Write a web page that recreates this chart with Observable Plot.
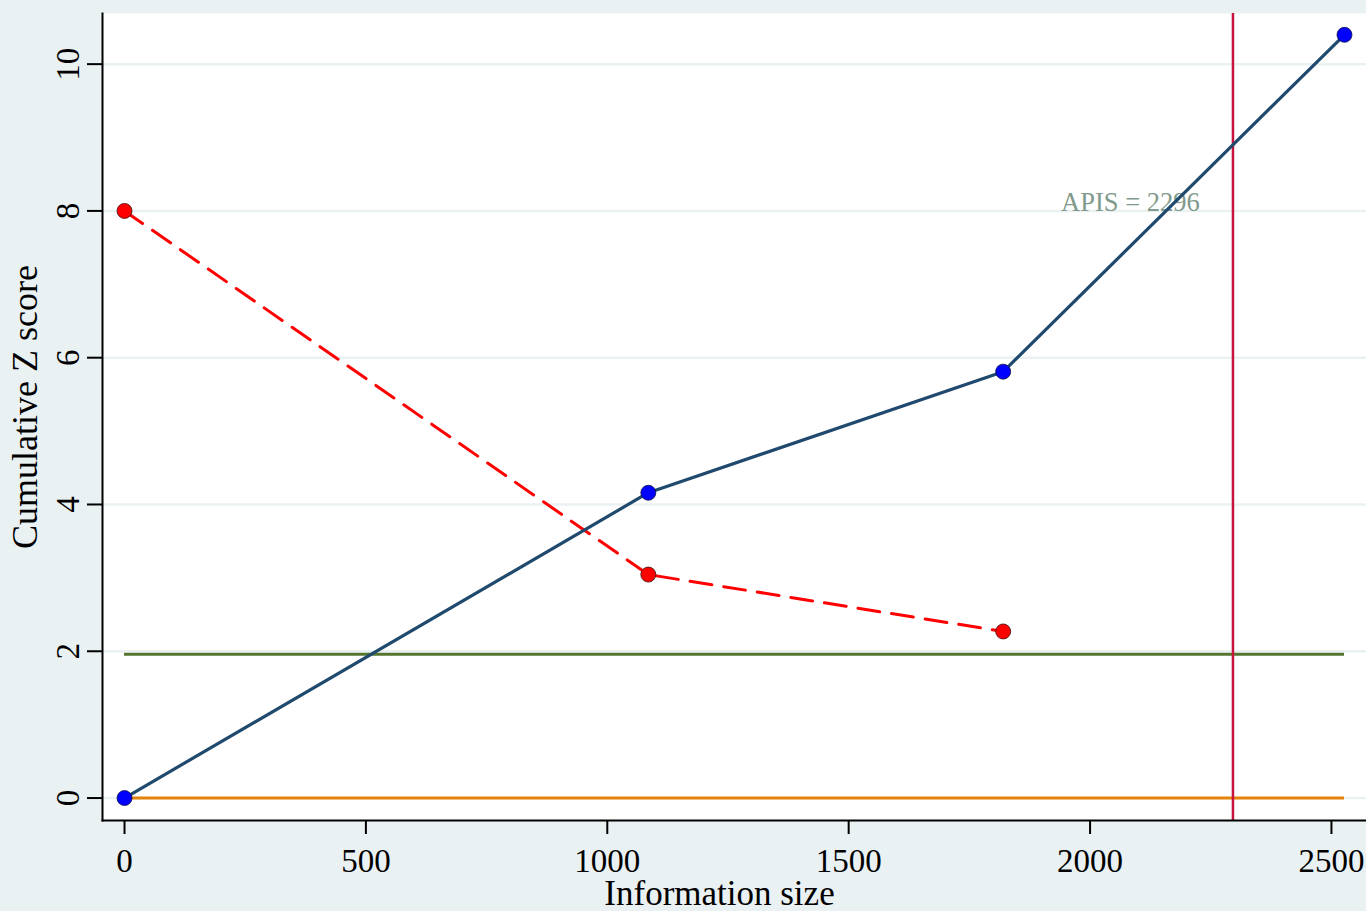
<!DOCTYPE html>
<html>
<head>
<meta charset="utf-8">
<script src="https://cdn.jsdelivr.net/npm/d3@7"></script>
<script src="https://cdn.jsdelivr.net/npm/@observablehq/plot@0.6"></script>
<style>
  html, body { margin: 0; padding: 0; background: #eaf1f3; }
  #chart svg { display: block; }
  #chart svg text { font-family: 'Liberation Serif', 'Times New Roman', serif; font-variant: normal; }
</style>
</head>
<body>
<div id="chart"></div>
<script>
// Cumulative information size and the cumulative Z curve
const infoSize = [0, 1085, 1820, 2527];
const cumulativeZ = [0, 4.16, 5.81, 10.40];

// Second series (dashed red), shown at the first three looks
const boundSize = [0, 1085, 1820];
const boundZ = [8.0, 3.045, 2.27];

// Reference lines
const zCritical = 1.96;
const zeroLine = 0;
const refEnd = 2527;
const apis = 2296;
const apisLabel = "APIS = 2296";

const xTicks = [0, 500, 1000, 1500, 2000, 2500];
const yTicks = [0, 2, 4, 6, 8, 10];
const xTitle = "Information size";
const yTitle = "Cumulative Z score";

const curve = infoSize.map((x, i) => ({x, z: cumulativeZ[i]}));
const bound = boundSize.map((x, i) => ({x, z: boundZ[i]}));

const chart = Plot.plot({
  width: 1366,
  height: 911,
  marginLeft: 102,
  marginRight: 0,
  marginTop: 13,
  marginBottom: 91,
  style: {fontFamily: "'Liberation Serif', 'Times New Roman', serif", fontSize: "33px", background: "#eaf1f3", color: "#000"},
  x: {domain: [-45.6, 2572.6]},
  y: {domain: [-0.306, 10.69]},
  marks: [
    Plot.frame({fill: "white", stroke: null}),
    Plot.gridY(yTicks, {stroke: "#eaf1f3", strokeOpacity: 1, strokeWidth: 2.5}),
    Plot.ruleY([zeroLine], {x1: 0, x2: refEnd, stroke: "#e5820a", strokeWidth: 3}),
    Plot.ruleY([zCritical], {x1: 0, x2: refEnd, stroke: "#55752f", strokeWidth: 3}),
    Plot.ruleX([apis], {stroke: "#c8133f", strokeWidth: 2.5}),
    Plot.text([apisLabel], {x: 1940, y: 8.0, text: d => d, textAnchor: "start", lineAnchor: "bottom", fill: "#809a8c", fontSize: 26.5}),
    Plot.line(bound, {x: "x", y: "z", stroke: "#ff0000", strokeWidth: 3, strokeDasharray: "22,12"}),
    Plot.line(curve, {x: "x", y: "z", stroke: "#1f4a6e", strokeWidth: 3.2}),
    Plot.dot(bound, {x: "x", y: "z", r: 7.5, fill: "#ff0000", stroke: "#3a1010", strokeWidth: 0.8}),
    Plot.dot(curve, {x: "x", y: "z", r: 7.5, fill: "#0000ff", stroke: "#101040", strokeWidth: 0.8}),
    Plot.frame({anchor: "left", stroke: "#000", strokeWidth: 2}),
    Plot.frame({anchor: "bottom", stroke: "#000", strokeWidth: 2}),
    Plot.axisX(xTicks, {tickSize: 14, tickPadding: 14, strokeWidth: 2, fontVariant: "normal", label: null, tickFormat: d => String(d)}),
    Plot.axisY(yTicks, {tickSize: 15, tickPadding: 9, tickRotate: -90, strokeWidth: 2, fontVariant: "normal", label: null, tickFormat: d => String(d)}),
    // Axis titles
    Plot.text([xTitle], {frameAnchor: "bottom", text: d => d, dx: -15, dy: 73, fontSize: 35, textAnchor: "middle", lineAnchor: "middle", fill: "#000"}),
    Plot.text([yTitle], {frameAnchor: "left", text: d => d, dx: -77, dy: -10, rotate: -90, fontSize: 36, textAnchor: "middle", lineAnchor: "middle", fill: "#000"})
  ]
});

document.getElementById("chart").appendChild(chart);
</script>
</body>
</html>
